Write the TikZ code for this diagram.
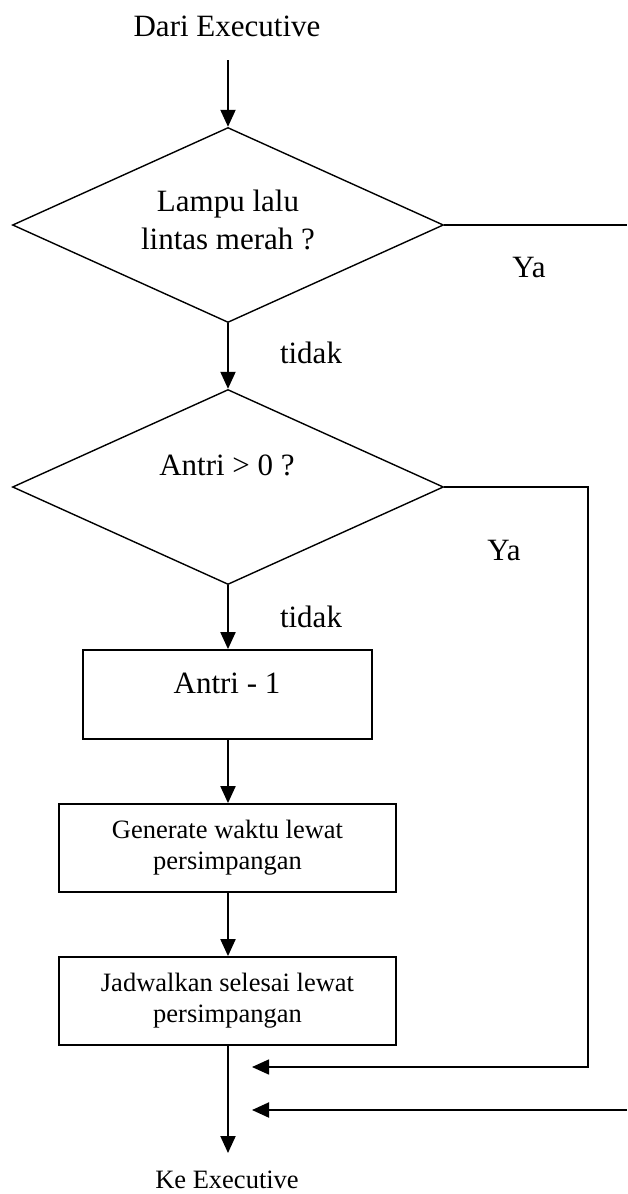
\documentclass[tikz,border=0pt]{standalone}
\usepackage{fontspec}
\setmainfont{Liberation Serif}
\usetikzlibrary{shapes.geometric,arrows.meta}
\begin{document}
\begin{tikzpicture}[x=1pt,y=-1pt,
  txt/.style={inner sep=0pt,align=center,font=\fontsize{31}{38}\selectfont},
  smalltxt/.style={inner sep=0pt,align=center,font=\fontsize{26.5}{31}\selectfont},
  decision/.style={draw,diamond,line width=1.4pt,minimum width=431pt,minimum height=195pt,inner sep=0pt},
  process/.style={draw,rectangle,line width=1.8pt,inner sep=0pt},
  tip/.style={-{Triangle[length=17pt,width=15pt]}},
  flow/.style={line width=2pt,tip},
  plain/.style={line width=1.6pt}]
\useasboundingbox (0,0) rectangle (627,1194);

% start label and first decision
\node[txt] (start) at (227,26) {Dari Executive};
\coordinate (starttail) at (228,60);
\node[decision] (d1) at (228,225) {};
\node[txt] (d1text) at (228,220) {Lampu lalu\\lintas merah ?};
\coordinate (d1out) at (627,225);
\node[txt] (ya1) at (529,267) {Ya};
\node[txt] (tidak1) at (311,353) {tidak};

% second decision
\node[decision] (d2) at (228,487) {};
\node[txt] (d2text) at (227,465) {Antri > 0 ?};
\node[txt] (ya2) at (504,550) {Ya};
\node[txt] (tidak2) at (311,617) {tidak};

% process boxes
\node[process,minimum width=289pt,minimum height=89pt] (b1) at (227.5,694.5) {};
\node[txt] (b1text) at (227,683) {Antri - 1};
\node[process,minimum width=337pt,minimum height=88pt,smalltxt] (b2) at (227.5,848) {Generate waktu lewat\\persimpangan};
\node[process,minimum width=337pt,minimum height=88pt,smalltxt] (b3) at (227.5,1001) {Jadwalkan selesai lewat\\persimpangan};

% merge point and end label
\coordinate (endtip) at (228,1153);
\coordinate (m1) at (252,1067);
\coordinate (m2) at (252,1110);
\coordinate (corner) at (588,1067);
\coordinate (m2tail) at (627,1110);
\node[smalltxt] (end) at (227,1180) {Ke Executive};

% connectors
\draw[flow] (starttail) -- (d1.north);
\draw[flow] (d1.south) -- (d2.north);
\draw[plain] (d1.east) -- (d1out);
\draw[flow] (d2.south) -- (b1.north -| d2.south);
\draw[flow] (b1.south -| d2.south) -- (b2.north -| d2.south);
\draw[flow] (b2.south -| d2.south) -- (b3.north -| d2.south);
\draw[flow] (b3.south -| d2.south) -- (endtip);
\draw[plain,tip] (d2.east) -| (corner) -- (m1);
\draw[flow] (m2tail) -- (m2);
\end{tikzpicture}
\end{document}
